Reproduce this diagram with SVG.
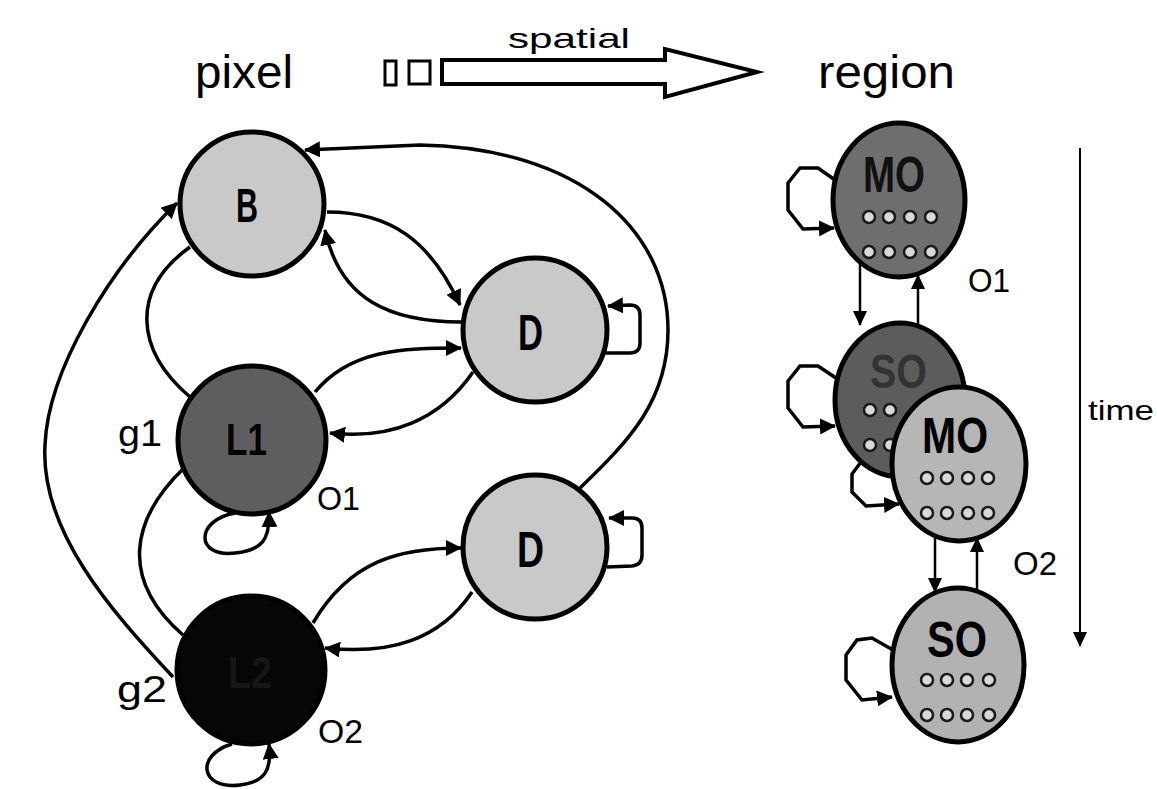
<svg xmlns="http://www.w3.org/2000/svg" width="1157" height="789" viewBox="0 0 1157 789">
  <style>
    .lbl { font-family: "Liberation Sans", Arial, sans-serif; fill: #000; }
    .nl { font-weight: bold; }
    .node { stroke: #000; stroke-width: 5; }
    .light { fill: #c9c9c9; }
    .dark { fill: #5e5e5e; }
    .black { fill: #060606; }
    .conn { fill: none; stroke: #000; stroke-width: 3.5; }
    .arr { marker-end: url(#head); }
    .dot { fill: #d9d9d9; stroke: #1a1a1a; stroke-width: 2.5; }
  </style>
  <defs>
    <marker id="head" markerUnits="userSpaceOnUse" markerWidth="18" markerHeight="16" refX="15" refY="8" orient="auto">
      <path d="M0,0 L16,8 L0,16 Z" fill="#000"/>
    </marker>
    <marker id="thinhead" markerUnits="userSpaceOnUse" markerWidth="16" markerHeight="14" refX="14" refY="7" orient="auto">
      <path d="M0,0 L15,7 L0,14 Z" fill="#000"/>
    </marker>
  </defs>

  <!-- header: pixel -> region -->
  <g id="header">
    <text class="lbl" x="195" y="88" font-size="46" textLength="98" lengthAdjust="spacingAndGlyphs">pixel</text>
    <text class="lbl" x="818" y="88" font-size="46" textLength="137" lengthAdjust="spacingAndGlyphs">region</text>
    <text class="lbl" x="508" y="48" font-size="28" fill="#222" textLength="122" lengthAdjust="spacingAndGlyphs">spatial</text>
    <rect x="385" y="61" width="11" height="24" fill="#fff" stroke="#000" stroke-width="3"/>
    <rect x="409" y="61" width="21" height="23" fill="#fff" stroke="#000" stroke-width="3"/>
    <polygon points="442,60 665,60 665,49 757,72 665,97 665,84 442,84" fill="#fff" stroke="#000" stroke-width="4" stroke-linejoin="miter"/>
  </g>

  <!-- connectors -->
  <g id="connectors">
    <!-- pixel graph -->
    <path class="conn arr" d="M173,677 C110,610 40,530 45,445 C48,370 110,268 177,203"/>
    <path class="conn" d="M190,247 C130,290 135,350 190,397"/>
    <path class="conn" d="M184,468 C130,520 120,580 183,635"/>
    <path class="conn arr" d="M327,212 C390,212 430,240 460,305"/>
    <path class="conn arr" d="M462,322 C390,322 340,300 325,230"/>
    <path class="conn arr" d="M315,392 C350,350 400,348 461,348"/>
    <path class="conn arr" d="M473,372 C440,420 390,440 330,433"/>
    <path class="conn arr" d="M313,623 C350,560 400,548 461,548"/>
    <path class="conn arr" d="M472,592 C440,640 390,655 325,648"/>
    <path class="conn arr" d="M580,488 C630,440 668,400 668,330 C668,230 580,148 420,145 L305,150"/>
    <path class="conn arr" d="M604,353 L630,353 Q640,353 640,343 L640,315 Q640,305 630,305 L608,306"/>
    <path class="conn arr" d="M607,567 L632,566 Q642,565 642,555 L642,528 Q642,518 632,518 L609,518"/>
    <path class="conn arr" d="M235,513 C195,520 195,558 235,553 C262,550 270,540 269,512"/>
    <path class="conn arr" d="M232,744 C195,755 200,790 240,785 C265,782 272,770 269,744"/>

    <!-- region graph -->
    <path class="conn arr" d="M835,180 L818,168 L800,168 L788,183 L788,210 L803,229 L834,228"/>
    <path class="conn arr" d="M836,378 L818,366 L800,366 L788,381 L788,408 L803,427 L835,426"/>
    <path class="conn arr" d="M893,650 L872,638 L857,640 L846,655 L846,680 L862,700 L892,697"/>
    <path class="conn" style="stroke-width:2.5" marker-end="url(#thinhead)" d="M860,262 L860,325"/>
    <path class="conn" style="stroke-width:2.5" marker-end="url(#thinhead)" d="M918,326 L918,275"/>
    <path class="conn" style="stroke-width:2.5" marker-end="url(#thinhead)" d="M935,536 L935,592"/>
    <path class="conn" style="stroke-width:2.5" marker-end="url(#thinhead)" d="M977,591 L977,538"/>

    <!-- time axis -->
    <path class="conn" style="stroke-width:2" marker-end="url(#thinhead)" d="M1080,148 L1080,646"/>
  </g>

  <!-- pixel-level states -->
  <g id="node-B">
    <circle class="node light" cx="252" cy="204" r="72"/>
    <text class="lbl nl" x="236" y="222" font-size="48" textLength="22" lengthAdjust="spacingAndGlyphs">B</text>
  </g>
  <g id="node-D1">
    <circle class="node light" cx="535" cy="330" r="72"/>
    <text class="lbl nl" x="518" y="350" font-size="50" textLength="25" lengthAdjust="spacingAndGlyphs">D</text>
  </g>
  <g id="node-L1">
    <circle class="node dark" cx="252" cy="440" r="74"/>
    <text class="lbl nl" x="226" y="455" font-size="44" textLength="41" lengthAdjust="spacingAndGlyphs">L1</text>
  </g>
  <g id="node-D2">
    <circle class="node light" cx="535" cy="547" r="72"/>
    <text class="lbl nl" x="517" y="567" font-size="50" textLength="27" lengthAdjust="spacingAndGlyphs">D</text>
  </g>
  <g id="node-L2">
    <circle class="node black" cx="251" cy="670" r="74"/>
    <text class="lbl nl" x="228" y="688" font-size="44" style="fill:#161616" textLength="44" lengthAdjust="spacingAndGlyphs">L2</text>
  </g>

  <!-- pixel labels -->
  <g id="pixel-labels">
    <text class="lbl" x="118" y="446" font-size="36" textLength="44" lengthAdjust="spacingAndGlyphs">g1</text>
    <text class="lbl" x="117" y="702" font-size="36" textLength="50" lengthAdjust="spacingAndGlyphs">g2</text>
    <text class="lbl" x="317" y="510" font-size="34" textLength="43" lengthAdjust="spacingAndGlyphs">O1</text>
    <text class="lbl" x="318" y="743" font-size="34" textLength="45" lengthAdjust="spacingAndGlyphs">O2</text>
  </g>

  <!-- region-level states -->
  <g id="node-MO1">
    <ellipse class="node" cx="899" cy="200" rx="66" ry="77" fill="#6e6e6e"/>
    <text class="lbl nl" x="863" y="192" font-size="50" style="fill:#111" textLength="62" lengthAdjust="spacingAndGlyphs">MO</text>
    <g>
      <circle class="dot" cx="869" cy="217" r="6"/><circle class="dot" cx="889" cy="217" r="6"/>
      <circle class="dot" cx="910" cy="217" r="6"/><circle class="dot" cx="931" cy="217" r="6"/>
      <circle class="dot" cx="869" cy="252" r="6"/><circle class="dot" cx="889" cy="252" r="6"/>
      <circle class="dot" cx="910" cy="252" r="6"/><circle class="dot" cx="931" cy="252" r="6"/>
    </g>
  </g>
  <g id="node-SO1">
    <ellipse class="node" cx="900" cy="400" rx="65" ry="77" fill="#5c5c5c"/>
    <text class="lbl nl" x="870" y="388" font-size="48" style="fill:#333" textLength="57" lengthAdjust="spacingAndGlyphs">SO</text>
    <g>
      <circle class="dot" cx="870" cy="410" r="6"/><circle class="dot" cx="890" cy="410" r="6"/>
      <circle class="dot" cx="870" cy="445" r="6"/><circle class="dot" cx="890" cy="445" r="6"/>
    </g>
  </g>
  <path class="conn arr" d="M861,462 L852,474 L852,492 L866,506 L899,504"/>
  <g id="node-MO2">
    <ellipse class="node" cx="959" cy="464" rx="67" ry="77" fill="#b6b6b6"/>
    <text class="lbl nl" x="922" y="453" font-size="50" textLength="66" lengthAdjust="spacingAndGlyphs">MO</text>
    <g>
      <circle class="dot" cx="927" cy="478" r="6"/><circle class="dot" cx="947" cy="478" r="6"/>
      <circle class="dot" cx="968" cy="478" r="6"/><circle class="dot" cx="988" cy="478" r="6"/>
      <circle class="dot" cx="927" cy="513" r="6"/><circle class="dot" cx="947" cy="513" r="6"/>
      <circle class="dot" cx="968" cy="513" r="6"/><circle class="dot" cx="988" cy="513" r="6"/>
    </g>
  </g>
  <g id="node-SO2">
    <ellipse class="node" cx="958" cy="665" rx="66" ry="77" fill="#b2b2b2"/>
    <text class="lbl nl" x="927" y="657" font-size="50" textLength="60" lengthAdjust="spacingAndGlyphs">SO</text>
    <g>
      <circle class="dot" cx="927" cy="680" r="6"/><circle class="dot" cx="947" cy="680" r="6"/>
      <circle class="dot" cx="967" cy="680" r="6"/><circle class="dot" cx="989" cy="680" r="6"/>
      <circle class="dot" cx="927" cy="715" r="6"/><circle class="dot" cx="947" cy="715" r="6"/>
      <circle class="dot" cx="967" cy="715" r="6"/><circle class="dot" cx="989" cy="715" r="6"/>
    </g>
  </g>

  <!-- region labels -->
  <g id="region-labels">
    <text class="lbl" x="968" y="292" font-size="33" textLength="42" lengthAdjust="spacingAndGlyphs">O1</text>
    <text class="lbl" x="1013" y="575" font-size="33" textLength="44" lengthAdjust="spacingAndGlyphs">O2</text>
    <text class="lbl" x="1088" y="420" font-size="28" fill="#222" textLength="66" lengthAdjust="spacingAndGlyphs">time</text>
  </g>
</svg>
